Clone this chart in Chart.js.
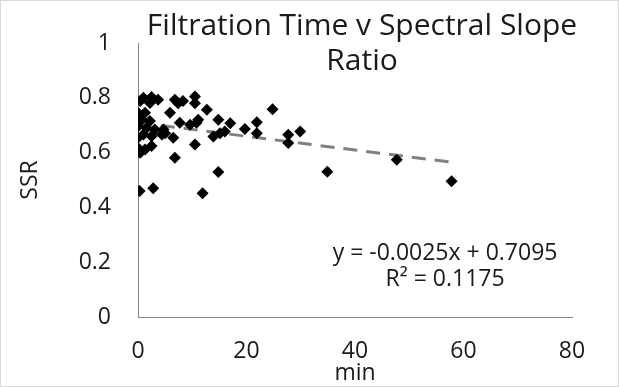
<!DOCTYPE html>
<html>
<head>
<meta charset="utf-8">
<script src="https://cdn.jsdelivr.net/npm/chart.js@4/dist/chart.umd.min.js"></script>
<style>
  html, body { margin: 0; padding: 0; background: #fff; }
  #wrap { width: 619px; height: 387px; }
</style>
</head>
<body>
<div id="wrap"><canvas id="scatter" width="619" height="387"></canvas></div>
<script>
// filtration time (min) and spectral slope ratio
const minutes = [
  0.0, 0.4, 1.0, 2.5, 3.7, 2.2, 6.8, 8.3, 7.4, 10.5,
  10.5, 12.7, 5.9, 1.3, 0.7, 2.2, 0.1, 1.6, 3.1, 4.7,
  1.0, 0.0, 2.5, 4.4, 7.7, 9.6, 10.8, 11.1, 6.5, 5.0,
  2.5, 1.3, 0.0, 0.4, 6.8, 10.5, 14.8, 17.0, 16.0, 15.1,
  13.9, 0.3, 2.8, 11.9, 14.8, 19.7, 21.9, 21.9, 24.8, 27.7,
  27.7, 29.9, 34.9, 47.7, 57.8
];
const ssr = [
  0.745, 0.788, 0.800, 0.803, 0.793, 0.781, 0.793, 0.788, 0.780, 0.805,
  0.780, 0.756, 0.745, 0.745, 0.720, 0.715, 0.697, 0.690, 0.684, 0.684,
  0.666, 0.654, 0.660, 0.666, 0.709, 0.702, 0.709, 0.720, 0.654, 0.671,
  0.624, 0.611, 0.617, 0.599, 0.581, 0.630, 0.720, 0.707, 0.677, 0.671,
  0.659, 0.460, 0.470, 0.452, 0.529, 0.686, 0.711, 0.671, 0.758, 0.665,
  0.635, 0.677, 0.530, 0.574, 0.495
];

// linear trendline as printed on the chart
const slope = -0.0025;
const intercept = 0.7095;
const trendRange = [0, 57.8];
const eqLines = ["y = -0.0025x + 0.7095", "R\u00b2 = 0.1175"];

const xTicks = [0, 20, 40, 60, 80];
const yTicks = [0, 0.2, 0.4, 0.6, 0.8, 1];
const titleLines = ["Filtration Time v Spectral Slope", "Ratio"];

const FONT = "'Open Sans', sans-serif";
const textCol = "#1a1a1a";

const points = minutes.map((m, i) => ({ x: m, y: ssr[i] }));
const trend = trendRange.map(x => ({ x: x, y: slope * x + intercept }));

const decorPlugin = {
  id: "decor",
  beforeDraw: (chart) => {
    const c = chart.ctx;
    c.save();
    c.fillStyle = "#fff";
    c.fillRect(0, 0, chart.width, chart.height);
    c.restore();
  },
  afterDraw: (chart) => {
    const c = chart.ctx;
    const xs = chart.scales.x;
    const ys = chart.scales.y;
    c.save();
    // title (two lines)
    c.fillStyle = textCol;
    c.textAlign = "center";
    c.textBaseline = "middle";
    c.font = "30px " + FONT;
    c.fillText(titleLines[0], 362, 26);
    c.fillText(titleLines[1], 362, 61);
    // trendline equation
    c.font = "23px " + FONT;
    c.fillText(eqLines[0], xs.getPixelForValue(56.6), ys.getPixelForValue(0.231));
    c.fillText(eqLines[1], xs.getPixelForValue(56.6), ys.getPixelForValue(0.137));
    // light frame round the picture
    c.strokeStyle = "#d9d9d9";
    c.lineWidth = 1;
    c.strokeRect(0.5, 0.5, chart.width - 1, chart.height - 1);
    c.restore();
  },
};

const ctx = document.getElementById("scatter").getContext("2d");
new Chart(ctx, {
  type: "scatter",
  data: {
    datasets: [
      {
        label: "SSR",
        data: points,
        pointStyle: "rectRot",
        pointRadius: 6,
        backgroundColor: "#000",
        borderColor: "#000",
        borderWidth: 0,
        order: 1,
      },
      {
        label: "Linear (SSR)",
        type: "line",
        data: trend,
        borderColor: "#808080",
        borderWidth: 3,
        borderDash: [14, 9],
        pointRadius: 0,
        fill: false,
        order: 2,
      },
    ],
  },
  options: {
    responsive: false,
    animation: false,
    layout: { padding: { top: 43, right: 47, bottom: 0, left: 0 } },
    plugins: {
      legend: { display: false },
      tooltip: { enabled: false },
      title: { display: false },
    },
    scales: {
      x: {
        type: "linear",
        min: 0,
        max: 80,
        afterFit: (scale) => { scale.height = 70; },
        afterBuildTicks: (scale) => { scale.ticks = xTicks.map(v => ({ value: v })); },
        grid: { display: false, drawTicks: false },
        border: { display: true, color: "#868686", width: 1 },
        ticks: { font: { size: 23, family: FONT }, color: textCol, padding: 21 },
        title: {
          display: true,
          text: "min",
          font: { size: 23, family: FONT },
          color: textCol,
          padding: { top: 0, bottom: 0 },
        },
      },
      y: {
        type: "linear",
        min: 0,
        max: 1,
        afterFit: (scale) => { scale.width = 138; },
        afterBuildTicks: (scale) => { scale.ticks = yTicks.map(v => ({ value: v })); },
        grid: { display: false, drawTicks: false },
        border: { display: true, color: "#868686", width: 1 },
        ticks: {
          font: { size: 23, family: FONT },
          color: textCol,
          padding: 27,
          callback: (v) => String(Math.round(v * 10) / 10),
        },
        title: {
          display: true,
          text: "SSR",
          font: { size: 23, family: FONT },
          color: textCol,
          padding: { top: 17, bottom: 0 },
        },
      },
    },
  },
  plugins: [decorPlugin],
});
</script>
</body>
</html>
